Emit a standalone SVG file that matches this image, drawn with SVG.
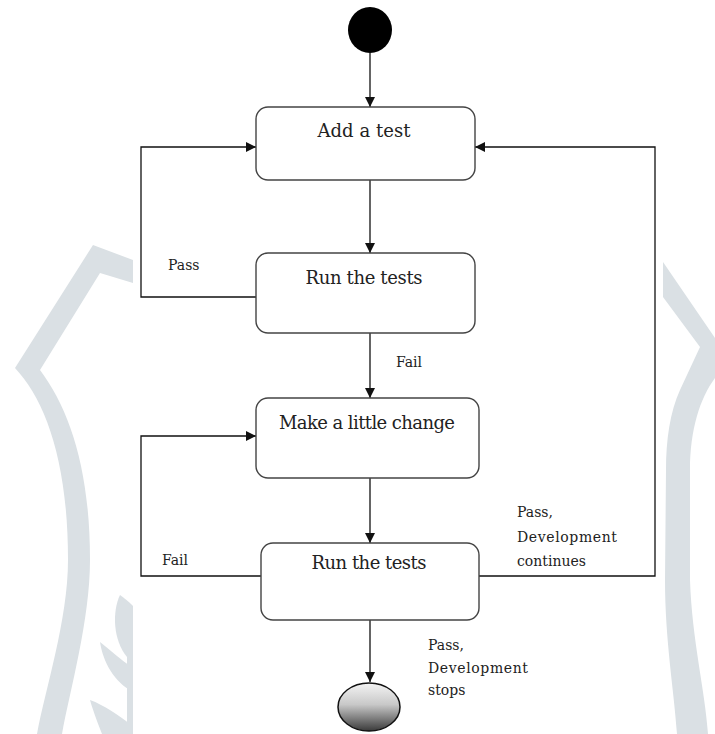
<svg xmlns="http://www.w3.org/2000/svg" width="715" height="734" viewBox="0 0 715 734">
  <style>
    .wm { fill: #dae0e4; stroke: none; }
    .box { fill: #ffffff; stroke: #444444; stroke-width: 1.4; }
    .conn { fill: none; stroke: #111111; stroke-width: 1.3; }
    .ntext { font-family: "DejaVu Serif", "Liberation Serif", serif; font-size: 18px; fill: #222222; text-anchor: middle; }
    .ltext { font-family: "DejaVu Serif", "Liberation Serif", serif; font-size: 14px; fill: #222222; }
  </style>
  <defs>
    <marker id="arrow" markerUnits="userSpaceOnUse" markerWidth="10" markerHeight="10" refX="10" refY="5" orient="auto">
      <path d="M0,0 L10,5 L0,10 Z" fill="#111111"/>
    </marker>
    <linearGradient id="endgrad" x1="0" y1="0" x2="0" y2="1">
      <stop offset="0" stop-color="#f4f4f4"/>
      <stop offset="0.45" stop-color="#c8c8c8"/>
      <stop offset="1" stop-color="#3a3a3a"/>
    </linearGradient>
  </defs>

  <rect x="0" y="0" width="715" height="734" fill="#ffffff"/>

  <g id="watermark">
    <path class="wm" d="M93,245 L133,260 L133,283 L100,273 L40,370 C70,410 90,470 90,560 C90,620 70,690 62,734 L37,734 C45,690 68,620 68,560 C68,460 45,400 15,368 Z"/>
    <path class="wm" d="M120,595 C112,612 113,640 127,657 L133,662 L133,606 C128,601 124,598 120,595 Z"/>
    <path class="wm" d="M100,642 C103,662 114,682 133,692 L133,668 C121,660 110,650 100,642 Z"/>
    <path class="wm" d="M90,700 C94,714 99,726 102,734 L133,734 L133,726 C118,715 104,705 90,700 Z"/>
    <rect class="wm" x="127" y="640" width="6" height="94"/>
    <path class="wm" d="M663,262 L715,338 L715,378 C700,398 690,430 690,470 L690,580 C692,640 705,690 708,734 L677,734 C674,690 665,640 665,580 L666,470 C666,440 670,412 680,390 L700,347 L663,297 Z"/>
  </g>

  <g id="connectors">
    <path class="conn" d="M370,53 V107" marker-end="url(#arrow)"/>
    <path class="conn" d="M370,180 V253" marker-end="url(#arrow)"/>
    <path class="conn" d="M370,333 V398" marker-end="url(#arrow)"/>
    <path class="conn" d="M370,478 V543" marker-end="url(#arrow)"/>
    <path class="conn" d="M370,620 V682" marker-end="url(#arrow)"/>
    <path class="conn" d="M256,297 H141 V147 H256" marker-end="url(#arrow)"/>
    <path class="conn" d="M261,576 H141 V436 H256" marker-end="url(#arrow)"/>
    <path class="conn" d="M478,576 H655 V147 H475" marker-end="url(#arrow)"/>
  </g>

  <g id="start">
    <ellipse cx="370" cy="30" rx="22" ry="23" fill="#000000"/>
  </g>

  <g id="add-test">
    <rect class="box" x="256" y="107" width="219" height="73" rx="12" ry="12"/>
    <text class="ntext" x="364" y="137" textLength="93">Add a test</text>
  </g>

  <g id="run-tests-1">
    <rect class="box" x="256" y="253" width="219" height="80" rx="12" ry="12"/>
    <text class="ntext" x="364" y="284" textLength="117">Run the tests</text>
  </g>

  <g id="make-change">
    <rect class="box" x="256" y="398" width="223" height="80" rx="12" ry="12"/>
    <text class="ntext" x="367" y="429" textLength="176">Make a little change</text>
  </g>

  <g id="run-tests-2">
    <rect class="box" x="261" y="543" width="218" height="77" rx="12" ry="12"/>
    <text class="ntext" x="369" y="569" textLength="115">Run the tests</text>
  </g>

  <g id="end">
    <ellipse cx="369" cy="707" rx="31" ry="24" fill="url(#endgrad)" stroke="#111111" stroke-width="1.5"/>
  </g>

  <g id="labels">
    <text class="ltext" x="168" y="270">Pass</text>
    <text class="ltext" x="396" y="367">Fail</text>
    <text class="ltext" x="162" y="565">Fail</text>
    <text class="ltext" x="517" y="517">Pass,</text>
    <text class="ltext" x="517" y="542" textLength="100">Development</text>
    <text class="ltext" x="517" y="566">continues</text>
    <text class="ltext" x="428" y="650">Pass,</text>
    <text class="ltext" x="428" y="673" textLength="100">Development</text>
    <text class="ltext" x="428" y="695">stops</text>
  </g>
</svg>
